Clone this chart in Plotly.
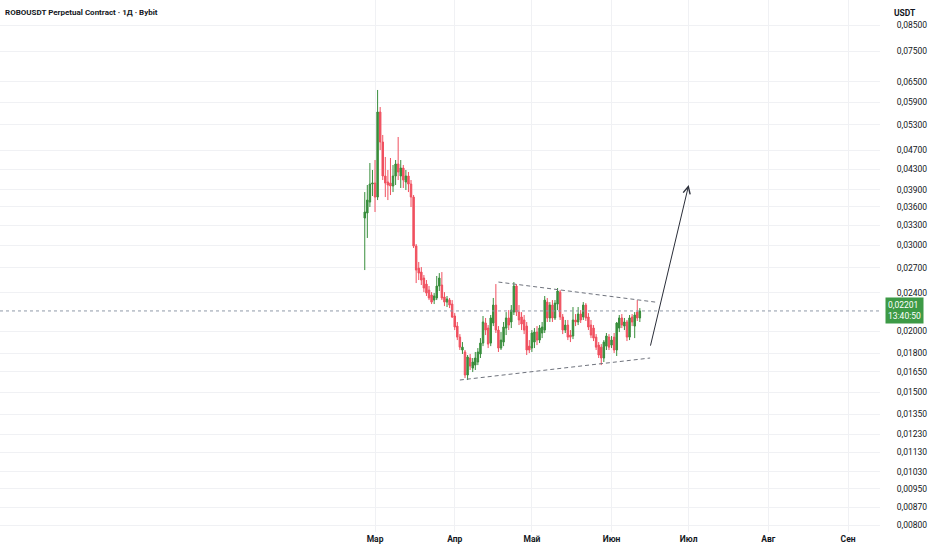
import math
import pandas as pd
import plotly.graph_objects as go

# daily candles, ROBOUSDT (Bybit perpetual)
dates = pd.date_range("2025-02-25", periods=108, freq="D")

opens = [
    0.03414, 0.03496, 0.03682, 0.04009, 0.04028, 0.03770, 0.05634, 0.04890, 0.04164, 0.04048,
    0.04028, 0.03972, 0.04164, 0.04407, 0.04164, 0.04324, 0.04048, 0.04164, 0.04009, 0.03770,
    0.02991, 0.02695, 0.02645, 0.02571, 0.02499, 0.02429, 0.02373, 0.02317, 0.02340, 0.02476,
    0.02488, 0.02351, 0.02295, 0.02317, 0.02274, 0.02149, 0.02049, 0.01945, 0.01830, 0.01813,
    0.01626, 0.01762, 0.01680, 0.01704, 0.01729, 0.01796, 0.01891, 0.02079, 0.02030, 0.01891,
    0.02079, 0.02263, 0.02011, 0.01847, 0.01900, 0.02030, 0.02129, 0.02089, 0.02189, 0.02476,
    0.02189, 0.02139, 0.02109, 0.02049, 0.01864, 0.01847, 0.01900, 0.01992, 0.01918, 0.01983,
    0.02011, 0.02295, 0.02129, 0.02263, 0.02129, 0.02274, 0.02406, 0.02139, 0.02011, 0.02059,
    0.01964, 0.01955, 0.02109, 0.02089, 0.02169, 0.02139, 0.02263, 0.02139, 0.02059, 0.02030,
    0.01945, 0.01873, 0.01855, 0.01762, 0.01864, 0.01945, 0.01873, 0.01945, 0.01830, 0.02030,
    0.02129, 0.02049, 0.02089, 0.01945, 0.02139, 0.02049, 0.02189, 0.02129,
]
highs = [
    0.03860, 0.03991, 0.04428, 0.04284, 0.04491, 0.06253, 0.05769, 0.05055, 0.04556, 0.04284,
    0.04534, 0.04386, 0.04491, 0.05007, 0.04491, 0.04386, 0.04284, 0.04244, 0.04086, 0.03806,
    0.03019, 0.02774, 0.02708, 0.02608, 0.02547, 0.02476, 0.02406, 0.02395, 0.02596, 0.02632,
    0.02645, 0.02406, 0.02362, 0.02340, 0.02317, 0.02179, 0.02089, 0.01973, 0.01900, 0.01830,
    0.01787, 0.01796, 0.01762, 0.01813, 0.01847, 0.01936, 0.02149, 0.02129, 0.02059, 0.02159,
    0.02340, 0.02499, 0.02049, 0.01992, 0.02089, 0.02189, 0.02210, 0.02263, 0.02523, 0.02499,
    0.02263, 0.02189, 0.02159, 0.02089, 0.01918, 0.02011, 0.02030, 0.02049, 0.02059, 0.02089,
    0.02362, 0.02340, 0.02295, 0.02317, 0.02317, 0.02453, 0.02429, 0.02169, 0.02109, 0.02109,
    0.02011, 0.02242, 0.02169, 0.02242, 0.02210, 0.02295, 0.02284, 0.02179, 0.02109, 0.02059,
    0.01973, 0.01900, 0.01882, 0.01918, 0.01983, 0.01973, 0.01955, 0.01983, 0.02089, 0.02159,
    0.02169, 0.02129, 0.02109, 0.02159, 0.02169, 0.02189, 0.02317, 0.02231,
]
lows = [
    0.02670, 0.03107, 0.03597, 0.03788, 0.03513, 0.03717, 0.04708, 0.04086, 0.03770, 0.03717,
    0.03806, 0.03860, 0.03991, 0.04086, 0.03935, 0.03935, 0.03897, 0.03860, 0.03597, 0.02963,
    0.02511, 0.02547, 0.02488, 0.02406, 0.02362, 0.02317, 0.02274, 0.02274, 0.02317, 0.02418,
    0.02317, 0.02252, 0.02242, 0.02231, 0.02129, 0.02011, 0.01918, 0.01830, 0.01796, 0.01603,
    0.01588, 0.01665, 0.01649, 0.01665, 0.01704, 0.01762, 0.01864, 0.01964, 0.01847, 0.01864,
    0.02049, 0.01983, 0.01813, 0.01830, 0.01864, 0.01964, 0.02011, 0.02030, 0.02159, 0.02149,
    0.02059, 0.02011, 0.01973, 0.01787, 0.01804, 0.01813, 0.01847, 0.01873, 0.01891, 0.01936,
    0.01983, 0.02089, 0.02089, 0.02089, 0.02109, 0.02210, 0.02109, 0.01973, 0.01983, 0.01918,
    0.01900, 0.01927, 0.02049, 0.02059, 0.02079, 0.02109, 0.02099, 0.02011, 0.01936, 0.01909,
    0.01830, 0.01762, 0.01704, 0.01729, 0.01830, 0.01830, 0.01847, 0.01804, 0.01779, 0.01992,
    0.02030, 0.02011, 0.01909, 0.01918, 0.02049, 0.01936, 0.02099, 0.02089,
]
closes = [
    0.03513, 0.03717, 0.04009, 0.04028, 0.03770, 0.05634, 0.04890, 0.04164, 0.04028, 0.03991,
    0.03972, 0.04164, 0.04407, 0.04244, 0.04324, 0.04086, 0.04164, 0.04009, 0.03770, 0.02991,
    0.02670, 0.02632, 0.02547, 0.02453, 0.02395, 0.02340, 0.02295, 0.02362, 0.02476, 0.02571,
    0.02340, 0.02295, 0.02329, 0.02263, 0.02139, 0.02040, 0.01945, 0.01855, 0.01855, 0.01626,
    0.01770, 0.01696, 0.01729, 0.01762, 0.01813, 0.01891, 0.02089, 0.02011, 0.01882, 0.02129,
    0.02263, 0.02011, 0.01847, 0.01918, 0.02040, 0.02129, 0.02059, 0.02210, 0.02476, 0.02189,
    0.02109, 0.02069, 0.02011, 0.01830, 0.01830, 0.01983, 0.01992, 0.01918, 0.02030, 0.02040,
    0.02317, 0.02129, 0.02263, 0.02129, 0.02284, 0.02418, 0.02139, 0.02011, 0.02059, 0.01945,
    0.01945, 0.02109, 0.02089, 0.02169, 0.02109, 0.02263, 0.02129, 0.02040, 0.01964, 0.01936,
    0.01855, 0.01787, 0.01762, 0.01900, 0.01955, 0.01855, 0.01918, 0.01830, 0.02079, 0.02129,
    0.02059, 0.02089, 0.01945, 0.02129, 0.02089, 0.02159, 0.02129, 0.02201,
]

# price scale labels (log scale)
y_ticks = [0.085, 0.075, 0.065, 0.059, 0.053, 0.047, 0.043, 0.039, 0.036, 0.033, 0.030,
           0.027, 0.024, 0.020, 0.018, 0.0165, 0.015, 0.0135, 0.0123, 0.0113, 0.0103,
           0.0095, 0.0087, 0.0080]
y_labels = ["0,08500", "0,07500", "0,06500", "0,05900", "0,05300", "0,04700", "0,04300",
            "0,03900", "0,03600", "0,03300", "0,03000", "0,02700", "0,02400", "0,02000",
            "0,01800", "0,01650", "0,01500", "0,01350", "0,01230", "0,01130", "0,01030",
            "0,00950", "0,00870", "0,00800"]

month_ticks = ["2025-03-01", "2025-04-01", "2025-05-01", "2025-06-01",
               "2025-07-01", "2025-08-01", "2025-09-01"]
month_labels = ["Мар", "Апр", "Май", "Июн", "Июл", "Авг", "Сен"]

# drawings: triangle sides and the projected move
upper_line_x = ["2025-04-18", "2025-06-18"]
upper_line_y = [0.02523, 0.02295]
lower_line_x = ["2025-04-03", "2025-06-16"]
lower_line_y = [0.01588, 0.01762]
arrow_from = ("2025-06-16", 0.01855)
arrow_to = ("2025-07-01", 0.03991)

last_price = 0.02201
countdown = "13:40:50"

x_range = ["2024-10-06 03:00", "2025-09-13 10:00"]
y_range = [0.007744, 0.09566]

up_col = "#388e3c"
down_col = "#f0505f"
font_fam = "Roboto, Liberation Sans, sans-serif"

fig = go.Figure()

fig.add_trace(go.Candlestick(
    x=dates, open=opens, high=highs, low=lows, close=closes,
    increasing=dict(line=dict(color=up_col, width=1), fillcolor=up_col),
    decreasing=dict(line=dict(color=down_col, width=1), fillcolor=down_col),
    whiskerwidth=0, hoverinfo="skip", showlegend=False,
))

# current price line
fig.add_trace(go.Scatter(
    x=x_range, y=[last_price, last_price], mode="lines",
    line=dict(color="#8f9aa8", width=1, dash="dot"),
    hoverinfo="skip", showlegend=False,
))

for lx, ly in [(upper_line_x, upper_line_y), (lower_line_x, lower_line_y)]:
    fig.add_trace(go.Scatter(
        x=lx, y=ly, mode="lines",
        line=dict(color="#6f737d", width=1, dash="4px,3px"),
        hoverinfo="skip", showlegend=False,
    ))

fig.add_annotation(
    x=arrow_to[0], y=math.log10(arrow_to[1]),
    ax=arrow_from[0], ay=math.log10(arrow_from[1]),
    xref="x", yref="y", axref="x", ayref="y",
    text="", showarrow=True, arrowhead=5, arrowsize=1.4,
    arrowwidth=1, arrowcolor="#2a2e39",
)

# header texts
fig.add_annotation(
    x=0, y=1, xref="paper", yref="paper", xanchor="left", yanchor="top",
    xshift=3, yshift=-6, showarrow=False,
    text="<b>ROBOUSDT Perpetual Contract · 1Д · Bybit</b>",
    font=dict(family=font_fam, size=8, color="#131722"),
)
fig.add_annotation(
    x=1, y=1, xref="paper", yref="paper", xanchor="left", yanchor="top",
    xshift=12, yshift=-6, showarrow=False, text="<b>USDT</b>",
    font=dict(family=font_fam, size=8.5, color="#131722"),
)

# last price tag on the scale
fig.add_annotation(
    x=1, y=math.log10(last_price), xref="paper", yref="y",
    xanchor="left", yanchor="middle", xshift=5, showarrow=False,
    text=f"0,02201<br>{countdown}", align="left",
    bgcolor="#3d9a46", borderpad=2,
    font=dict(family=font_fam, size=8.5, color="#ffffff"),
)

fig.update_layout(
    width=932, height=550,
    margin=dict(l=0, r=52, t=0, b=18),
    paper_bgcolor="#ffffff", plot_bgcolor="#ffffff",
    font=dict(family=font_fam, color="#131722"),
    showlegend=False, boxgap=0.18,
    xaxis=dict(
        range=x_range, rangeslider=dict(visible=False),
        tickvals=month_ticks, ticktext=month_labels,
        showgrid=True, gridcolor="#f0f1f4", gridwidth=1,
        zeroline=False, showline=False, ticks="", automargin=False,
        tickfont=dict(family=font_fam, size=8.5, color="#131722", weight="bold"),
    ),
    yaxis=dict(
        type="log", side="right",
        range=[math.log10(y_range[0]), math.log10(y_range[1])],
        tickvals=y_ticks, ticktext=y_labels,
        showgrid=True, gridcolor="#f0f1f4", gridwidth=1,
        zeroline=False, showline=False, automargin=False,
        ticks="outside", ticklen=14, tickcolor="rgba(0,0,0,0)",
        tickfont=dict(family=font_fam, size=8.5, color="#131722"),
    ),
)

# the page body has a default 8px margin; drop it so the figure fills the window
fig.write_html("out.html", config={"displayModeBar": False},
               post_script="document.body.style.margin='0px';")
